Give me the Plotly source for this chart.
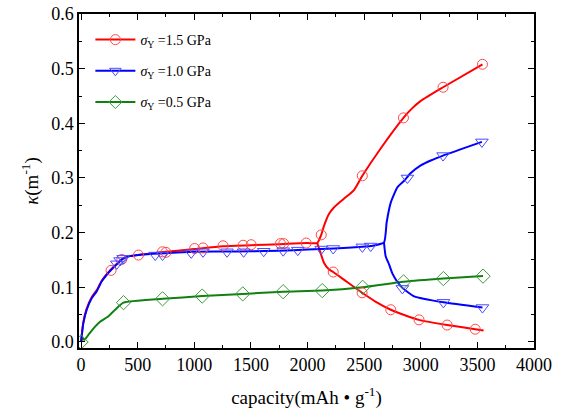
import plotly.graph_objects as go

# ---------------- data ----------------
# sigma_Y = 1.5 GPa : smooth line, loading + upper branch
red_up_x = [0, 20, 50, 94, 139, 183, 227, 271, 316, 360, 404, 463, 537, 700, 1000, 1250, 1500, 1750, 2000, 2086,
            2121, 2145, 2189, 2233, 2321, 2410, 2484, 2646, 2847, 2912, 3000, 3197, 3545]
red_up_y = [0, 0.036, 0.061, 0.082, 0.095, 0.112, 0.124, 0.134, 0.143, 0.151, 0.156, 0.158, 0.160, 0.164, 0.170, 0.175, 0.177, 0.179, 0.181, 0.181,
            0.196, 0.212, 0.234, 0.246, 0.262, 0.278, 0.304, 0.354, 0.410, 0.425, 0.441, 0.466, 0.508]
# lower branch
red_lo_x = [2086, 2115, 2145, 2188, 2227, 2321, 2482, 2600, 2735, 2860, 2985, 3233, 3481, 3555]
red_lo_y = [0.181, 0.163, 0.145, 0.133, 0.128, 0.114, 0.090, 0.074, 0.059, 0.049, 0.0405, 0.031, 0.0234, 0.021]
# marker points
red_mk_x = [265, 360, 507, 719, 750, 1003, 1077, 1254, 1431, 1502, 1761, 1790, 1988, 2121,
            2484, 2847, 3197, 3545, 2227, 2482, 2735, 2985, 3233, 3481]
red_mk_y = [0.131, 0.151, 0.159, 0.165, 0.164, 0.171, 0.172, 0.176, 0.177, 0.178, 0.180, 0.180, 0.181, 0.196,
            0.304, 0.410, 0.466, 0.508, 0.128, 0.090, 0.059, 0.0405, 0.031, 0.0234]

# sigma_Y = 1.0 GPa
blue_up_x = [0, 20, 50, 94, 139, 183, 227, 271, 316, 360, 404, 463, 537, 700, 1000, 1250, 1500, 1750, 2000, 2233, 2484, 2558, 2675,
             2699, 2735, 2794, 2853, 2912, 3000, 3088, 3197, 3540]
blue_up_y = [0, 0.034, 0.059, 0.080, 0.093, 0.111, 0.123, 0.133, 0.142, 0.151, 0.156, 0.158, 0.160, 0.162, 0.165, 0.1655, 0.166, 0.167, 0.169, 0.171, 0.174, 0.1755, 0.182,
             0.219, 0.255, 0.283, 0.295, 0.309, 0.323, 0.332, 0.341, 0.366]
blue_lo_x = [2675, 2690, 2720, 2750, 2790, 2838, 2942, 3200, 3545]
blue_lo_y = [0.182, 0.157, 0.142, 0.125, 0.111, 0.099, 0.0835, 0.0725, 0.063]
blue_mk_x = [316, 345, 372, 655, 720, 973, 1077, 1289, 1436, 1613, 1785, 1914, 2121, 2227, 2484, 2558,
             2882, 3197, 3540, 2838, 3200, 3545]
blue_mk_y = [0.143, 0.149, 0.153, 0.159, 0.159, 0.163, 0.165, 0.165, 0.165, 0.166, 0.167, 0.168, 0.170, 0.171, 0.174, 0.1755,
             0.300, 0.341, 0.366, 0.098, 0.0725, 0.063]

# sigma_Y = 0.5 GPa
green_x = [0, 12, 30, 65, 124, 168, 242, 301, 375, 720, 1070, 1428, 1785, 2130, 2487, 2848, 3200, 3550]
green_y = [0, 0.007, 0.004, 0.013, 0.028, 0.037, 0.047, 0.059, 0.072, 0.079, 0.084, 0.088, 0.092, 0.094, 0.100, 0.110, 0.116, 0.1205]
green_mk_x = [0, 375, 720, 1070, 1428, 1785, 2130, 2487, 2848, 3200, 3550]
green_mk_y = [0, 0.072, 0.079, 0.084, 0.088, 0.092, 0.094, 0.100, 0.110, 0.116, 0.1205]

labels = ["<i>σ</i><sub>Y</sub> =1.5 GPa", "<i>σ</i><sub>Y</sub> =1.0 GPa", "<i>σ</i><sub>Y</sub> =0.5 GPa"]

x_ticks = [0, 500, 1000, 1500, 2000, 2500, 3000, 3500, 4000]
y_ticks = [0.0, 0.1, 0.2, 0.3, 0.4, 0.5, 0.6]
y_ticktext = ["0.0", "0.1", "0.2", "0.3", "0.4", "0.5", "0.6"]

# ---------------- styles ----------------
RED, BLUE, GREEN = "#ff0000", "#0000ff", "#108010"
RED_M, BLUE_M, GREEN_M = "#ff4a4a", "#4a4aff", "#3f9a3f"
FONT = "Liberation Serif"

fig = go.Figure()

def line(x, y, color):
    fig.add_trace(go.Scatter(x=x, y=y, mode="lines", showlegend=False, hoverinfo="skip",
                             line=dict(color=color, width=2, shape="spline", smoothing=0.5)))

def marks(x, y, color, symbol, size):
    fig.add_trace(go.Scatter(x=x, y=y, mode="markers", showlegend=False,
                             marker=dict(symbol=symbol, size=size, color=color, line=dict(color=color, width=1))))

line(red_up_x, red_up_y, RED)
line(red_lo_x, red_lo_y, RED)
line(green_x, green_y, GREEN)
line(blue_up_x, blue_up_y, BLUE)
line(blue_lo_x, blue_lo_y, BLUE)

marks(red_mk_x, red_mk_y, RED_M, "circle-open", 10)
marks(green_mk_x, green_mk_y, GREEN_M, "diamond-open", 11)
marks(blue_mk_x, blue_mk_y, BLUE_M, "triangle-down-open", 11)

# legend entries
for lab, lc, mc, sym, g in [(labels[0], RED, RED_M, "circle-open", "a"),
                            (labels[1], BLUE, BLUE_M, "triangle-down-open", "b"),
                            (labels[2], GREEN, GREEN_M, "diamond-open", "c")]:
    fig.add_trace(go.Scatter(x=[None], y=[None], mode="lines+markers", name=lab, legendgroup=g,
                             line=dict(color=lc, width=2),
                             marker=dict(symbol=sym, size=10, color=mc, line=dict(color=mc, width=1))))

axis_common = dict(showline=True, linecolor="black", linewidth=1.5, mirror="ticks",
                   ticks="inside", ticklen=6, tickwidth=1.2, tickcolor="black",
                   showgrid=False, zeroline=False, automargin=False,
                   tickfont=dict(family=FONT, size=18, color="black"))

fig.update_layout(
    width=569, height=415,
    margin=dict(l=79, r=35, t=14, b=67),
    plot_bgcolor="white", paper_bgcolor="white",
    font=dict(family=FONT, color="black"),
    xaxis=dict(range=[-18, 4000], tickvals=x_ticks,
               minor=dict(ticks="inside", ticklen=3, tickwidth=1.2, tickcolor="black", dtick=250, tick0=0),
               title=dict(text="capacity(mAh • g<sup>-1</sup>)", font=dict(family=FONT, size=19), standoff=16),
               **axis_common),
    yaxis=dict(range=[-0.011, 0.6], tickvals=y_ticks, ticktext=y_ticktext,
               minor=dict(ticks="inside", ticklen=3, tickwidth=1.2, tickcolor="black", dtick=0.05, tick0=0),
               title=dict(text="<i>κ</i>(m<sup>-1</sup>)", font=dict(family=FONT, size=19), standoff=8),
               **axis_common),
    legend=dict(x=0.025, y=0.97, xanchor="left", yanchor="top", bgcolor="rgba(0,0,0,0)",
                font=dict(family=FONT, size=14, color="black"), traceorder="grouped",
                tracegroupgap=10, itemwidth=40),
)

fig.write_html("out.html", config={"displayModeBar": False},
               post_script="document.body.style.margin='0';")
